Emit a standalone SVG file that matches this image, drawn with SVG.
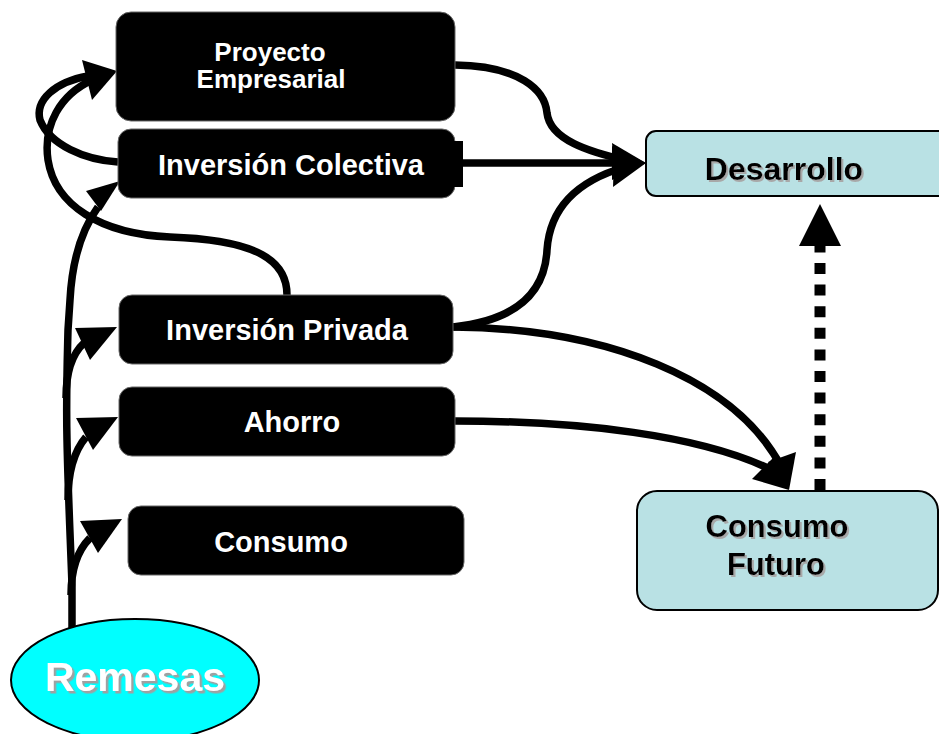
<svg xmlns="http://www.w3.org/2000/svg" width="939" height="734" viewBox="0 0 939 734">
<style>
.box{fill:#000;stroke:#666;stroke-width:1}
.lt{fill:#B9E1E4;stroke:#000;stroke-width:2}
.wt{fill:#fff;font-family:"Liberation Sans",Arial,sans-serif;font-weight:bold;text-anchor:middle}
.bt{fill:#000;font-family:"Liberation Sans",Arial,sans-serif;font-weight:bold;text-anchor:middle}
.c{fill:none;stroke:#000;stroke-width:7.5;stroke-linecap:butt}
.ah{fill:#000}
</style>
<defs>
<filter id="sh" x="-10%" y="-20%" width="130%" height="150%">
<feDropShadow dx="2" dy="2" stdDeviation="0.4" flood-color="#a8a8a8" flood-opacity="1"/>
</filter>
<filter id="sh2" x="-10%" y="-20%" width="130%" height="150%">
<feDropShadow dx="2.5" dy="2.5" stdDeviation="0.5" flood-color="#a0a0a0" flood-opacity="1"/>
</filter>
</defs>

<g id="connectors">
<!-- Proyecto -> Desarrollo -->
<path class="c" d="M455,65 C520,66 545,90 547,113 C550,140 590,152 625,160"/>
<polygon class="ah" points="612,143 646,163 614,168"/>
<!-- Colectiva -> Desarrollo -->
<path class="c" d="M462,163 L620,163"/>
<polygon class="ah" points="612,146 646,163 612,180"/>
<!-- Privada -> Desarrollo -->
<path class="c" d="M453,327 C520,320 545,290 547,250 C550,205 580,180 625,167"/>
<polygon class="ah" points="614,158 646,163 613,187"/>
<!-- Privada -> Consumo Futuro -->
<path class="c" d="M453,327 C605,328 735,378 782,468"/>
<polygon class="ah" points="796,452 789,490 768,462"/>
<!-- Ahorro -> Consumo Futuro -->
<path class="c" d="M455,421 C580,421 700,435 772,470"/>
<polygon class="ah" points="752,479 789,490 774,457"/>
<!-- Consumo Futuro -> Desarrollo (dotted) -->
<path d="M820,490 L820,246" fill="none" stroke="#000" stroke-width="11" stroke-dasharray="11 10.6"/>
<polygon class="ah" points="799,246 841,246 820,204"/>
<!-- Remesas trunk -> Inversion Colectiva -->
<path class="c" d="M72,628 L72,585 C70,530 68,490 67,440 C66,400 67,370 68,330 L70,300 C72,262 80,232 98,207"/>
<polygon class="ah" points="86,191 120,181 101,211"/>
<!-- Remesas -> Inversion Privada -->
<path class="c" d="M66,398 C66,372 72,354 84,343"/>
<polygon class="ah" points="75,328 117,327 90,360"/>
<!-- Remesas -> Ahorro -->
<path class="c" d="M68,500 C68,470 75,450 86,437"/>
<polygon class="ah" points="76,418 118,417 93,450"/>
<!-- Remesas -> Consumo -->
<path class="c" d="M71,595 C71,568 78,550 90,538"/>
<polygon class="ah" points="80,521 122,519 98,553"/>
<!-- Inversion Colectiva -> Proyecto -->
<path class="c" d="M118,162 C85,160 50,145 40,120 C35,100 55,82 88,76"/>
<!-- Inversion Privada -> Proyecto -->
<path class="c" d="M287,295 C287,262 260,240 170,237 C100,234 55,205 48,160 C43,125 60,95 92,80"/>
<polygon class="ah" points="82,60 117,71 92,100"/>
</g>

<g id="proyecto">
<rect class="box" x="116" y="12" width="339" height="109" rx="15"/>
<text class="wt" font-size="26" x="270" y="61">Proyecto</text>
<text class="wt" font-size="26" x="271" y="88">Empresarial</text>
</g>
<g id="colectiva">
<rect class="box" x="118" y="129" width="337" height="69" rx="13"/>
<rect x="453" y="141" width="10" height="46" fill="#000"/>
<text class="wt" font-size="29" x="291" y="175">Inversión Colectiva</text>
</g>
<g id="privada">
<rect class="box" x="119" y="295" width="334" height="69" rx="13"/>
<text class="wt" font-size="29" x="287" y="340">Inversión Privada</text>
</g>
<g id="ahorro">
<rect class="box" x="119" y="387" width="336" height="69" rx="13"/>
<text class="wt" font-size="29" x="292" y="432">Ahorro</text>
</g>
<g id="consumo">
<rect class="box" x="128" y="506" width="336" height="69" rx="13"/>
<text class="wt" font-size="29" x="281" y="552">Consumo</text>
</g>
<g id="desarrollo">
<rect class="lt" x="646" y="131" width="320" height="65" rx="10"/>
<text class="bt" font-size="32" x="784" y="180" filter="url(#sh)">Desarrollo</text>
</g>
<g id="consumo-futuro">
<rect class="lt" x="637" y="491" width="301" height="119" rx="20"/>
<text class="bt" font-size="31" x="777" y="537" filter="url(#sh)">Consumo</text>
<text class="bt" font-size="31" x="776" y="575" filter="url(#sh)">Futuro</text>
</g>
<g id="remesas">
<ellipse cx="135" cy="680" rx="124" ry="61" fill="#00FFFF" stroke="#000" stroke-width="2"/>
<text class="wt" font-size="41" x="135" y="691" filter="url(#sh2)">Remesas</text>
</g>
</svg>
